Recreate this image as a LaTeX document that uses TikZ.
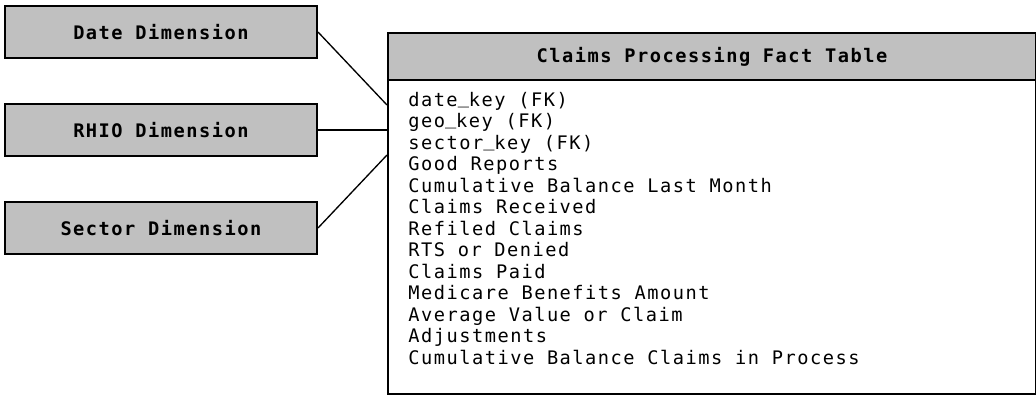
\documentclass[tikz,border=0pt]{standalone}
\usepackage{fontspec}
\newfontfamily\tablefont[LetterSpace=8.1]{DejaVu Sans Mono}
\usetikzlibrary{positioning}
\definecolor{boxgray}{RGB}{192,192,192}
\newcommand{\keybar}{\raisebox{2.4pt}{\_}}
\tikzset{
  every node/.style={text=black, font=\tablefont\fontsize{14}{16.1}\selectfont},
  dimbox/.style={draw=black, fill=boxgray, line width=1.5pt, minimum width=234pt, minimum height=39pt, inner sep=0pt, font=\tablefont\bfseries\fontsize{14}{16.1}\selectfont},
  link/.style={draw=black, line width=1pt}
}

\begin{document}
\begin{tikzpicture}[x=0.75pt, y=-0.75pt]
  \useasboundingbox (0,0) rectangle (1036,394);
  % Dimension tables
  \node (date) [dimbox, anchor=north west] at (4,5) {Date Dimension};
  \node (rhio) [dimbox, below=33pt of date] {RHIO Dimension};
  \node (sector) [dimbox, below=33pt of rhio] {Sector Dimension};

  % Fact table
  \node (facts) [draw=black, line width=1.5pt, minimum width=486pt, minimum height=270.75pt, inner sep=0pt, anchor=north west] at (387,32) {};
  \node (facthead) [dimbox, minimum width=486pt, minimum height=35.25pt, anchor=north west] at (facts.north west) {Claims Processing Fact Table};
  \node (factrows) [align=left, inner sep=0pt, anchor=north west] at (408,92) {
    date\keybar key (FK)\\
    geo\keybar key (FK)\\
    sector\keybar key (FK)\\
    Good Reports\\
    Cumulative Balance Last Month\\
    Claims Received\\
    Refiled Claims\\
    RTS or Denied\\
    Claims Paid\\
    Medicare Benefits Amount\\
    Average Value or Claim\\
    Adjustments\\
    Cumulative Balance Claims in Process
  };

  % Links
  \coordinate (datein) at (387,105);
  \coordinate (sectorin) at (387,155);
  \draw[link] (date.east) -- (datein);
  \draw[link] (rhio.east) -- (rhio.east -| facts.west);
  \draw[link] (sector.east) -- (sectorin);
\end{tikzpicture}
\end{document}
